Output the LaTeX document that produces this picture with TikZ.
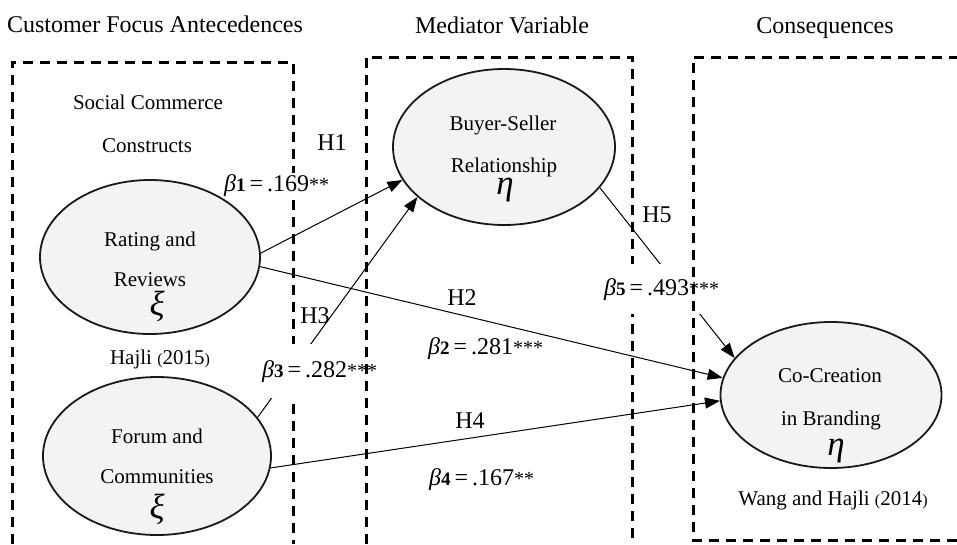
\documentclass[tikz,border=0pt]{standalone}
\usepackage{fontspec}
\setmainfont{Liberation Serif}
\usetikzlibrary{shapes.geometric,arrows.meta}
\definecolor{lvfill}{HTML}{F2F3F2}
\newcommand{\bcoef}[3]{{\itshape β}\textbf{\fontsize{19}{19}\selectfont #1}\,=\,#2{\fontsize{20}{20}\selectfont #3}}
\newcommand{\smallpar}[1]{{\fontsize{16}{16}\selectfont #1}}

\begin{document}
\begin{tikzpicture}[x=1pt, y=-1pt,
  box/.style={draw=black, line width=3pt, dash pattern=on 10pt off 7pt},
  lv/.style={draw=black!90, line width=1.8pt, ellipse, fill=lvfill, inner sep=0pt},
  hyp/.style={draw=black, line width=1pt, -{Triangle[length=15pt,width=11pt]}},
  head/.style={font=\fontsize{24}{28}\selectfont, anchor=base},
  txt/.style={font=\fontsize{21}{25}\selectfont, anchor=base},
  hlbl/.style={font=\fontsize{24}{28}\selectfont, anchor=base},
  coef/.style={font=\fontsize{24}{28}\selectfont, anchor=base west,
               fill=white, inner xsep=1pt, inner ysep=1pt},
  grk/.style={font=\fontsize{35}{36}\selectfont\itshape, anchor=base, inner sep=0pt},
]
\useasboundingbox (0,0) rectangle (957,544);
% Group boxes
\draw[box] (12,544) -- (12,62) -- (293,62) -- (293,544);
\draw[box] (366,544) -- (366,57) -- (632,57) -- (632,544);
% Headings
\node[head] (hant) at (155,32) {Customer Focus Antecedences};
\node[head] (hmed) at (502,33) {Mediator Variable};
\node[head] (hcon) at (825,33) {Consequences};
% Latent variables
\node[lv, minimum width=220pt, minimum height=154pt] (rate) at (150,257) {};
\node[lv, minimum width=228pt, minimum height=158pt] (forum) at (157,456) {};
\node[lv, minimum width=222pt, minimum height=156pt] (buyer) at (504,147) {};
\node[lv, minimum width=221pt, minimum height=146pt] (cocr) at (831,395) {};
% Texts of the constructs
\node[txt] (soc1) at (148,109) {Social Commerce};
\node[txt] (soc2) at (147,152) {Constructs};
\node[txt] (rate1) at (150,246) {Rating and};
\node[txt] (rate2) at (150,286) {Reviews};
\node[grk] (rxi) at (157,315) {ξ};
\node[txt] (src1) at (160,364) {Hajli \smallpar{(}2015\smallpar{)}};
\node[txt] (forum1) at (157,443) {Forum and};
\node[txt] (forum2) at (157,483) {Communities};
\node[grk] (fxi) at (157,518) {ξ};
\node[txt] (buyer1) at (503,130) {Buyer-Seller};
\node[txt] (buyer2) at (504,172) {Relationship};
\node[grk] (beta) at (505,194) {η};
\node[txt] (cocr1) at (830,382) {Co-Creation};
\node[txt] (cocr2) at (831,425) {in Branding};
\node[grk] (ceta) at (836,455) {η};
\node[txt] (src2) at (833,505) {Wang and Hajli \smallpar{(}2014\smallpar{)}};
% Paths
\draw[hyp] (rate.2) -- (buyer.198);
\draw[hyp] (forum.21) -- (buyer.210);
\draw[hyp] (rate.355) -- (cocr.171);
\draw[hyp] (forum.354) -- (cocr.183);
\draw[hyp] (buyer.337) -- (cocr.159);
% Hypothesis labels
\foreach \nm/\x/\y/\lab in {h1/332/150/H1, h2/462/305/H2, h3/315/323/H3,
                            h4/470/428/H4, h5/657/222/H5}
  \node[hlbl] (\nm) at (\x,\y) {\lab};
% Coefficients
\node[coef] (b1) at (223,191) {\bcoef{1}{.169}{**}};
\node[coef] (b2) at (427,354) {\bcoef{2}{.281}{***}};
\node[coef, inner ysep=16pt] (b3) at (261,377) {\bcoef{3}{.282}{***}};
\node[coef] (b4) at (428,485) {\bcoef{4}{.167}{**}};
\node[coef, inner ysep=14pt] (b5) at (603,295) {\bcoef{5}{.493}{***}};
% Edges drawn over the labels
\draw[box] (366,544) -- (366,57);
\draw[box] (957,540) -- (693,540) -- (693,57) -- (957,57);
\end{tikzpicture}
\end{document}
